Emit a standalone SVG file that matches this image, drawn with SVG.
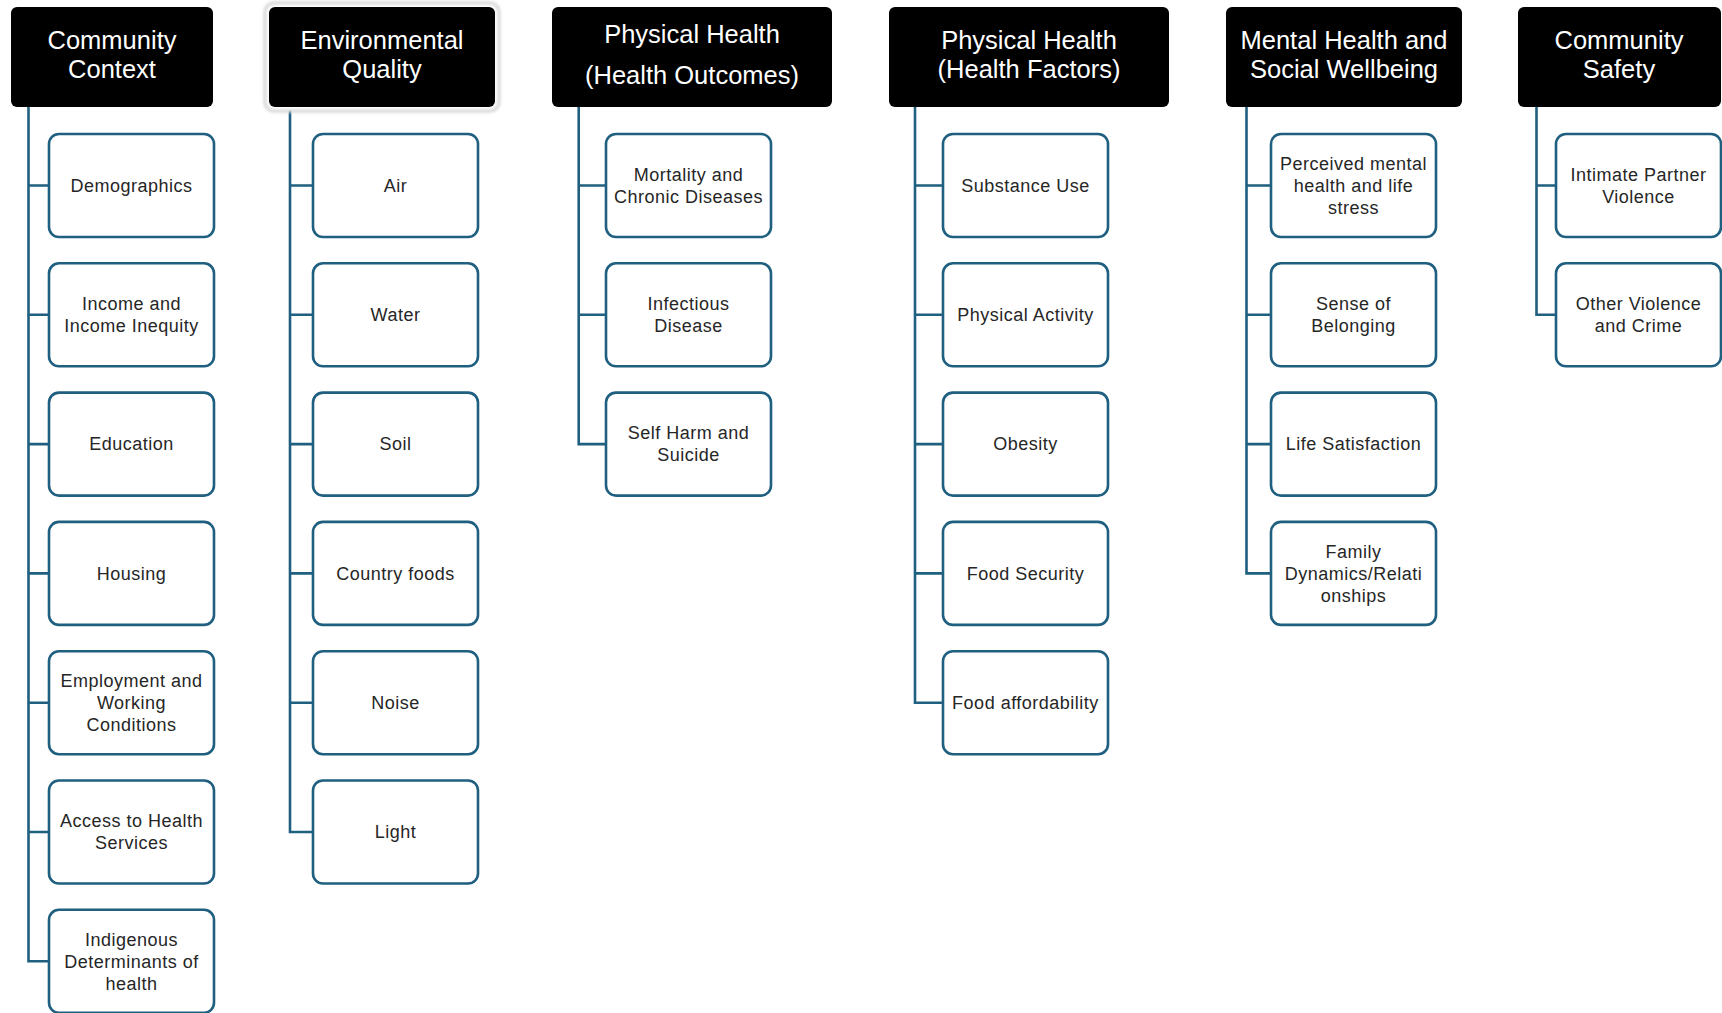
<svg xmlns="http://www.w3.org/2000/svg" width="1722" height="1013" viewBox="0 0 1722 1013">
<style>
.hdr{fill:#000}
.box{fill:#fff;stroke:#1f5f7f;stroke-width:2.6}
.ht{font-family:"Liberation Sans",Arial,sans-serif;font-size:25.5px;fill:#fff;text-anchor:middle}
.bt{font-family:"Liberation Sans",Arial,sans-serif;font-size:18px;letter-spacing:0.5px;fill:#262626;text-anchor:middle}
.con{fill:none;stroke:#1f5f7f;stroke-width:2.6}
</style>
<defs>
<filter id="glow" x="-10%" y="-20%" width="120%" height="140%"><feGaussianBlur stdDeviation="1.5"/></filter>
</defs>
<rect width="1722" height="1013" fill="#fff"/>
<g id="connectors">
<path class="con" d="M28.5 107V961.3H49M28.5 185.5H49M28.5 314.8H49M28.5 444.1H49M28.5 573.4H49M28.5 702.7H49M28.5 832H49"/>
<path class="con" d="M290 107V832H313M290 185.5H313M290 314.8H313M290 444.1H313M290 573.4H313M290 702.7H313"/>
<path class="con" d="M578.7 107V444.1H606M578.7 185.5H606M578.7 314.8H606"/>
<path class="con" d="M915 107V702.7H943M915 185.5H943M915 314.8H943M915 444.1H943M915 573.4H943"/>
<path class="con" d="M1246.5 107V573.4H1271M1246.5 185.5H1271M1246.5 314.8H1271M1246.5 444.1H1271"/>
<path class="con" d="M1536.5 107V314.8H1556M1536.5 185.5H1556"/>
</g>
<g id="h1"><rect class="hdr" x="11" y="7" width="202" height="100" rx="6"/><text class="ht" x="112" y="40" dy="0.35em">Community</text><text class="ht" x="112" y="69.5" dy="0.35em">Context</text></g>
<g id="h2"><rect x="265" y="3" width="234" height="108" rx="9" fill="#fff" stroke="#d4d4d4" stroke-width="3" filter="url(#glow)"/><rect class="hdr" x="269" y="7" width="226" height="100" rx="6"/><text class="ht" x="382" y="40" dy="0.35em">Environmental</text><text class="ht" x="382" y="69.5" dy="0.35em">Quality</text></g>
<g id="h3"><rect class="hdr" x="552" y="7" width="280" height="100" rx="6"/><text class="ht" x="692" y="34.5" dy="0.35em">Physical Health</text><text class="ht" x="692" y="75" dy="0.35em">(Health Outcomes)</text></g>
<g id="h4"><rect class="hdr" x="889" y="7" width="280" height="100" rx="6"/><text class="ht" x="1029" y="40" dy="0.35em">Physical Health</text><text class="ht" x="1029" y="69.5" dy="0.35em">(Health Factors)</text></g>
<g id="h5"><rect class="hdr" x="1226" y="7" width="236" height="100" rx="6"/><text class="ht" x="1344" y="40" dy="0.35em">Mental Health and</text><text class="ht" x="1344" y="69.5" dy="0.35em">Social Wellbeing</text></g>
<g id="h6"><rect class="hdr" x="1518" y="7" width="203" height="100" rx="6"/><text class="ht" x="1619" y="40" dy="0.35em">Community</text><text class="ht" x="1619" y="69.5" dy="0.35em">Safety</text></g>

<g id="c1r1"><rect class="box" x="49" y="134" width="165" height="103" rx="10"/><text class="bt" x="131.5" y="185.5" dy="0.35em">Demographics</text></g>
<g id="c1r2"><rect class="box" x="49" y="263.3" width="165" height="103" rx="10"/><text class="bt" x="131.5" y="303.8" dy="0.35em">Income and</text><text class="bt" x="131.5" y="325.8" dy="0.35em">Income Inequity</text></g>
<g id="c1r3"><rect class="box" x="49" y="392.6" width="165" height="103" rx="10"/><text class="bt" x="131.5" y="444.1" dy="0.35em">Education</text></g>
<g id="c1r4"><rect class="box" x="49" y="521.9" width="165" height="103" rx="10"/><text class="bt" x="131.5" y="573.4" dy="0.35em">Housing</text></g>
<g id="c1r5"><rect class="box" x="49" y="651.2" width="165" height="103" rx="10"/><text class="bt" x="131.5" y="680.7" dy="0.35em">Employment and</text><text class="bt" x="131.5" y="702.7" dy="0.35em">Working</text><text class="bt" x="131.5" y="724.7" dy="0.35em">Conditions</text></g>
<g id="c1r6"><rect class="box" x="49" y="780.5" width="165" height="103" rx="10"/><text class="bt" x="131.5" y="821" dy="0.35em">Access to Health</text><text class="bt" x="131.5" y="843" dy="0.35em">Services</text></g>
<g id="c1r7"><rect class="box" x="49" y="909.8" width="165" height="103" rx="10"/><text class="bt" x="131.5" y="939.3" dy="0.35em">Indigenous</text><text class="bt" x="131.5" y="961.3" dy="0.35em">Determinants of</text><text class="bt" x="131.5" y="983.3" dy="0.35em">health</text></g>

<g id="c2r1"><rect class="box" x="313" y="134" width="165" height="103" rx="10"/><text class="bt" x="395.5" y="185.5" dy="0.35em">Air</text></g>
<g id="c2r2"><rect class="box" x="313" y="263.3" width="165" height="103" rx="10"/><text class="bt" x="395.5" y="314.8" dy="0.35em">Water</text></g>
<g id="c2r3"><rect class="box" x="313" y="392.6" width="165" height="103" rx="10"/><text class="bt" x="395.5" y="444.1" dy="0.35em">Soil</text></g>
<g id="c2r4"><rect class="box" x="313" y="521.9" width="165" height="103" rx="10"/><text class="bt" x="395.5" y="573.4" dy="0.35em">Country foods</text></g>
<g id="c2r5"><rect class="box" x="313" y="651.2" width="165" height="103" rx="10"/><text class="bt" x="395.5" y="702.7" dy="0.35em">Noise</text></g>
<g id="c2r6"><rect class="box" x="313" y="780.5" width="165" height="103" rx="10"/><text class="bt" x="395.5" y="832" dy="0.35em">Light</text></g>

<g id="c3r1"><rect class="box" x="606" y="134" width="165" height="103" rx="10"/><text class="bt" x="688.5" y="174.5" dy="0.35em">Mortality and</text><text class="bt" x="688.5" y="196.5" dy="0.35em">Chronic Diseases</text></g>
<g id="c3r2"><rect class="box" x="606" y="263.3" width="165" height="103" rx="10"/><text class="bt" x="688.5" y="303.8" dy="0.35em">Infectious</text><text class="bt" x="688.5" y="325.8" dy="0.35em">Disease</text></g>
<g id="c3r3"><rect class="box" x="606" y="392.6" width="165" height="103" rx="10"/><text class="bt" x="688.5" y="433.1" dy="0.35em">Self Harm and</text><text class="bt" x="688.5" y="455.1" dy="0.35em">Suicide</text></g>

<g id="c4r1"><rect class="box" x="943" y="134" width="165" height="103" rx="10"/><text class="bt" x="1025.5" y="185.5" dy="0.35em">Substance Use</text></g>
<g id="c4r2"><rect class="box" x="943" y="263.3" width="165" height="103" rx="10"/><text class="bt" x="1025.5" y="314.8" dy="0.35em">Physical Activity</text></g>
<g id="c4r3"><rect class="box" x="943" y="392.6" width="165" height="103" rx="10"/><text class="bt" x="1025.5" y="444.1" dy="0.35em">Obesity</text></g>
<g id="c4r4"><rect class="box" x="943" y="521.9" width="165" height="103" rx="10"/><text class="bt" x="1025.5" y="573.4" dy="0.35em">Food Security</text></g>
<g id="c4r5"><rect class="box" x="943" y="651.2" width="165" height="103" rx="10"/><text class="bt" x="1025.5" y="702.7" dy="0.35em">Food affordability</text></g>

<g id="c5r1"><rect class="box" x="1271" y="134" width="165" height="103" rx="10"/><text class="bt" x="1353.5" y="163.5" dy="0.35em">Perceived mental</text><text class="bt" x="1353.5" y="185.5" dy="0.35em">health and life</text><text class="bt" x="1353.5" y="207.5" dy="0.35em">stress</text></g>
<g id="c5r2"><rect class="box" x="1271" y="263.3" width="165" height="103" rx="10"/><text class="bt" x="1353.5" y="303.8" dy="0.35em">Sense of</text><text class="bt" x="1353.5" y="325.8" dy="0.35em">Belonging</text></g>
<g id="c5r3"><rect class="box" x="1271" y="392.6" width="165" height="103" rx="10"/><text class="bt" x="1353.5" y="444.1" dy="0.35em">Life Satisfaction</text></g>
<g id="c5r4"><rect class="box" x="1271" y="521.9" width="165" height="103" rx="10"/><text class="bt" x="1353.5" y="551.4" dy="0.35em">Family</text><text class="bt" x="1353.5" y="573.4" dy="0.35em">Dynamics/Relati</text><text class="bt" x="1353.5" y="595.4" dy="0.35em">onships</text></g>

<g id="c6r1"><rect class="box" x="1556" y="134" width="165" height="103" rx="10"/><text class="bt" x="1638.5" y="174.5" dy="0.35em">Intimate Partner</text><text class="bt" x="1638.5" y="196.5" dy="0.35em">Violence</text></g>
<g id="c6r2"><rect class="box" x="1556" y="263.3" width="165" height="103" rx="10"/><text class="bt" x="1638.5" y="303.8" dy="0.35em">Other Violence</text><text class="bt" x="1638.5" y="325.8" dy="0.35em">and Crime</text></g>
</svg>
